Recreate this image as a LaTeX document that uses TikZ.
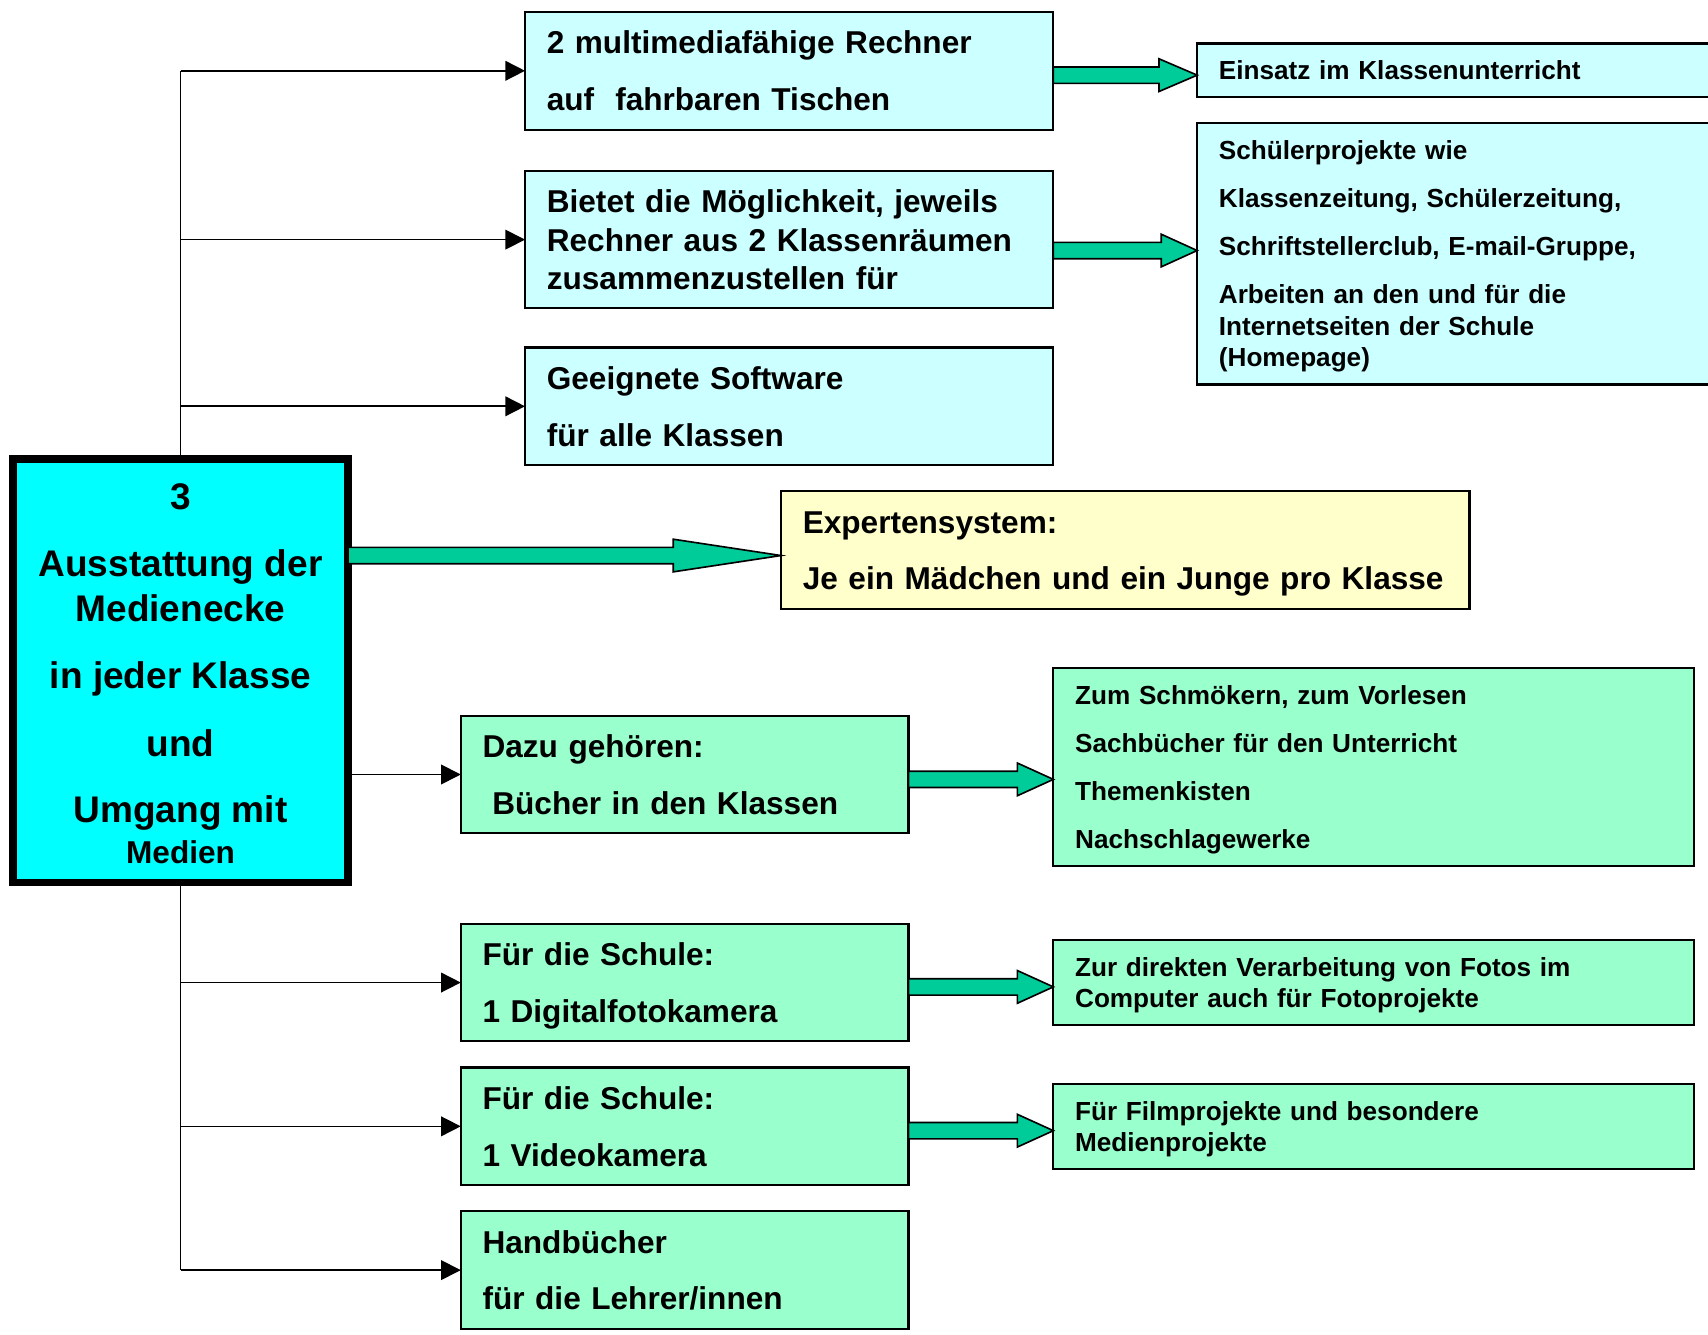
\documentclass[tikz,border=0pt]{standalone}
\usepackage{fontspec}
\setmainfont{Liberation Sans}
\usetikzlibrary{arrows.meta}

\definecolor{mediacyan}{HTML}{00FFFF}
\definecolor{topblue}{HTML}{CCFFFF}
\definecolor{expertyellow}{HTML}{FFFFCC}
\definecolor{lowgreen}{HTML}{99FFCC}
\definecolor{arrowgreen}{HTML}{00CC99}

% fixed line struts, so that every box sets its lines the same way
\newcommand{\bigline}{\rule[-7pt]{0pt}{35pt}}
\newcommand{\smallline}{\rule[-5.8pt]{0pt}{29pt}}

% thick green arrow: from node, to node, y, start of head
\newcommand{\fatarrow}[4]{%
  \draw[fatshape] (#1.east |- 0,#3-7.5) -- (#4,#3-7.5) -- (#4,#3-15) -- (#2.west |- 0,#3)
    -- (#4,#3+15) -- (#4,#3+7.5) -- (#1.east |- 0,#3+7.5) -- cycle;}

\begin{document}
\begin{tikzpicture}[x = 1pt, y = -1pt,
    every node/.style = {draw, line width = 2pt, anchor = north west, align = left,
                         inner xsep = 20pt, inner ysep = 0pt, outer sep = 0pt},
    bigtext/.style = {font = \fontsize{29}{35}\selectfont\bfseries,
                      execute at begin node = \bigline, execute at end node = \bigline},
    smalltext/.style = {font = \fontsize{24}{29}\selectfont\bfseries,
                        execute at begin node = \smallline, execute at end node = \smallline},
    topbox/.style = {bigtext, fill = topblue, text width = 445pt, minimum height = #1},
    sidebox/.style = {smalltext, fill = topblue, text width = 441pt, minimum height = #1},
    lowbox/.style = {bigtext, fill = lowgreen, text width = 371pt, minimum height = #1},
    notebox/.style = {smalltext, fill = lowgreen, text width = 548pt, minimum height = #1},
    conn/.style = {line width = 1.5pt, -{Triangle[length = 18pt, width = 18pt]}},
    fatshape/.style = {draw, line width = 1.5pt, fill = arrowgreen, line join = miter}]

    \useasboundingbox (0,0) rectangle (1568,1225);

    % main box
    \node[fill = mediacyan, line width = 7pt, align = center, inner sep = 0pt,
          minimum width = 307.5pt, minimum height = 388.5pt,
          font = \fontsize{34}{41}\selectfont\bfseries] (main) at (12,421.5)
        {\rule{0pt}{30pt}3\\[20pt] Ausstattung der\\ Medienecke\\[21pt] in jeder Klasse\\[21pt] und\\[20pt]
         Umgang mit\\[-3pt] {\fontsize{29}{35}\selectfont Medien}};

    % upper branch
    \node[topbox = 108pt] (b1) at (482,11) {2 multimediafähige Rechner\\[17pt] auf\ \ fahrbaren Tischen};
    \node[topbox = 126pt] (b2) at (482,157) {Bietet die Möglichkeit, jeweils\\ Rechner aus 2 Klassenräumen\\ zusammenzustellen für};
    \node[topbox = 108pt] (b3) at (482,319) {Geeignete Software\\[17pt] für alle Klassen};
    \node[sidebox = 49pt] (r1) at (1099,40) {Einsatz im Klassenunterricht};
    \node[sidebox = 240pt] (r2) at (1099,113) {Schülerprojekte wie\\[15pt] Klassenzeitung, Schülerzeitung,\\[15pt]
        Schriftstellerclub, E-mail-Gruppe,\\[15pt] Arbeiten an den und für die\\ Internetseiten der Schule\\ (Homepage)};

    % expert box
    \node[bigtext, fill = expertyellow, text width = 592pt, minimum height = 108pt] (ex) at (717,451)
        {Expertensystem:\\[17pt] Je ein Mädchen und ein Junge pro Klasse};

    % lower branch
    \node[lowbox = 108pt] (g1) at (423,657) {Dazu gehören:\\[17pt] \hspace*{9pt}Bücher in den Klassen};
    \node[notebox = 182pt] (gr1) at (967,613) {Zum Schmökern, zum Vorlesen\\[15pt] Sachbücher für den Unterricht\\[15pt]
        Themenkisten\\[15pt] Nachschlagewerke};
    \node[lowbox = 108pt] (g2) at (423,848) {Für die Schule:\\[17pt] 1 Digitalfotokamera};
    \node[notebox = 78pt] (gr2) at (967,863) {Zur direkten Verarbeitung von Fotos im\\ Computer auch für Fotoprojekte};
    \node[lowbox = 108pt] (g3) at (423,980) {Für die Schule:\\[17pt] 1 Videokamera};
    \node[notebox = 78pt] (gr3) at (967,995) {Für Filmprojekte und besondere\\ Medienprojekte};
    \node[lowbox = 108pt] (g4) at (423,1112) {Handbücher\\[17pt] für die Lehrer/innen};

    % trunk and connectors
    \draw[line width = 1.5pt] (b1.west -| main.north) -- (main.north)
                              (main.south) -- (g4.west -| main.south);
    \foreach \target in {b1, b2, b3, g2, g3, g4}
        \draw[conn] (\target.west -| main.north) -- (\target.west);
    \draw[conn] (main.east |- g1.west) -- (g1.west);

    % green arrows
    \fatarrow{b1}{r1}{69}{1064}
    \fatarrow{b2}{r2}{230}{1066}
    \fatarrow{main}{ex}{510}{618}
    \fatarrow{g1}{gr1}{715.5}{934}
    \fatarrow{g2}{gr2}{906}{934}
    \fatarrow{g3}{gr3}{1038}{934}
\end{tikzpicture}
\end{document}
